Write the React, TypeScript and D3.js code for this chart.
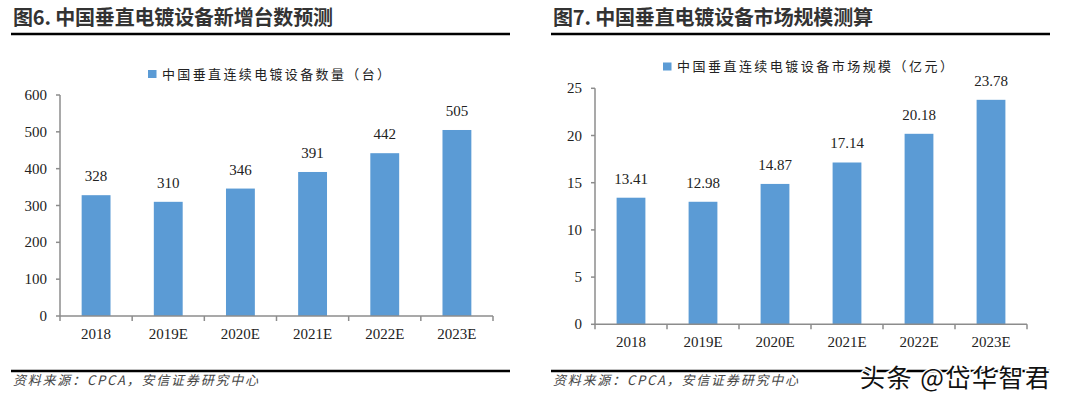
import React from 'react';
import * as d3 from 'd3';

const years = ['2018', '2019E', '2020E', '2021E', '2022E', '2023E'];
const unitValues = [328, 310, 346, 391, 442, 505];
const unitTicks = [0, 100, 200, 300, 400, 500, 600];
const marketValues = [13.41, 12.98, 14.87, 17.14, 20.18, 23.78];
const marketTicks = [0, 5, 10, 15, 20, 25];

const BAR = '#5B9BD5';
const AXIS = '#8c8c8c';
const SERIF = '"Liberation Serif", "Times New Roman", serif';
const CJK = '"Noto Sans CJK SC", "Noto Sans", sans-serif';

type PanelProps = {
  x0: number;
  title: string;
  legend: string;
  legendX: number;
  legendY: number;
  legendW: number;
  values: number[];
  ticks: number[];
  yMax: number;
  plot: { left: number; right: number; top: number; bottom: number };
  fmt: (v: number) => string;
};

const Panel = (p: PanelProps) => {
  const x = d3.scaleBand()
    .domain(years)
    .range([p.plot.left, p.plot.right])
    .paddingInner(0.6)
    .paddingOuter(0.3);
  const band = d3.scaleBand().domain(years).range([p.plot.left, p.plot.right]);
  const y = d3.scaleLinear().domain([0, p.yMax]).range([p.plot.bottom, p.plot.top]);

  return (
    <g>
      <text x={p.x0 + 13} y={25} fontFamily={CJK} fontWeight={700} fontSize={20} fill="#333"
        textLength={320} lengthAdjust="spacing">{p.title}</text>
      <line x1={p.x0 + 11} x2={p.x0 + 510} y1={34} y2={34} stroke="#000" strokeWidth={2.5} />

      <rect x={p.legendX} y={p.legendY - 4} width={8.5} height={8} fill={BAR} />
      <text x={p.legendX + 14} y={p.legendY + 4.5} fontFamily={CJK} fontSize={13} fill="#222"
        textLength={p.legendW} lengthAdjust="spacing">{p.legend}</text>

      {p.values.map((v, i) => (
        <rect key={years[i]} x={x(years[i])} y={y(v)} width={x.bandwidth()}
          height={y(0) - y(v)} fill={BAR} />
      ))}
      {p.values.map((v, i) => (
        <text key={'l' + years[i]} x={(x(years[i]) as number) + x.bandwidth() / 2} y={y(v) - 14}
          textAnchor="middle" fontFamily={SERIF} fontSize={15} fill="#222">{p.fmt(v)}</text>
      ))}

      <line x1={p.plot.left} x2={p.plot.left} y1={p.plot.top} y2={p.plot.bottom} stroke={AXIS} strokeWidth={1.5} />
      {p.ticks.map(t => (
        <g key={'t' + t}>
          <line x1={p.plot.left - 4} x2={p.plot.left} y1={y(t)} y2={y(t)} stroke={AXIS} strokeWidth={1.5} />
          <text x={p.plot.left - 13} y={y(t) + 5} textAnchor="end" fontFamily={SERIF} fontSize={15} fill="#222">{t}</text>
        </g>
      ))}

      <line x1={p.plot.left} x2={p.plot.right} y1={p.plot.bottom} y2={p.plot.bottom} stroke={AXIS} strokeWidth={1.5} />
      {[...years.map(d => band(d) as number), p.plot.right].map((tx, i) => (
        <line key={'xt' + i} x1={tx} x2={tx} y1={p.plot.bottom} y2={p.plot.bottom + 5} stroke={AXIS} strokeWidth={1.5} />
      ))}
      {years.map(d => (
        <text key={'xl' + d} x={(band(d) as number) + band.bandwidth() / 2} y={p.plot.bottom + 23}
          textAnchor="middle" fontFamily={SERIF} fontSize={15} fill="#222">{d}</text>
      ))}

      <line x1={p.x0 + 11} x2={p.x0 + 510} y1={371} y2={371} stroke="#000" strokeWidth={2.5} />
      <text x={p.x0 + 13} y={385} fontFamily={CJK} fontStyle="italic" fontSize={13} fill="#444"
        textLength={245} lengthAdjust="spacing">资料来源：CPCA，安信证券研究中心</text>
    </g>
  );
};

export default function App() {
  return (
    <svg width={1080} height={403} style={{ position: 'fixed', left: 0, top: 0, background: '#fff' }}>
      <rect width={1080} height={403} fill="#fff" />
      <Panel
        x0={0}
        title="图6. 中国垂直电镀设备新增台数预测"
        legend="中国垂直连续电镀设备数量（台）"
        legendX={148}
        legendY={74}
        legendW={228}
        values={unitValues}
        ticks={unitTicks}
        yMax={600}
        plot={{ left: 60, right: 493, top: 95, bottom: 316 }}
        fmt={v => String(v)}
      />
      <Panel
        x0={540}
        title="图7. 中国垂直电镀设备市场规模测算"
        legend="中国垂直连续电镀设备市场规模（亿元）"
        legendX={663}
        legendY={66.5}
        legendW={276}
        values={marketValues}
        ticks={marketTicks}
        yMax={25}
        plot={{ left: 595, right: 1027, top: 88.3, bottom: 324.3 }}
        fmt={v => v.toFixed(2)}
      />
      <text x={860} y={387} fontFamily={CJK} fontSize={25} fill="#111" stroke="#fff" strokeWidth={3}
        paintOrder="stroke" textLength={190} lengthAdjust="spacing">头条 @岱华智君</text>
    </svg>
  );
}
